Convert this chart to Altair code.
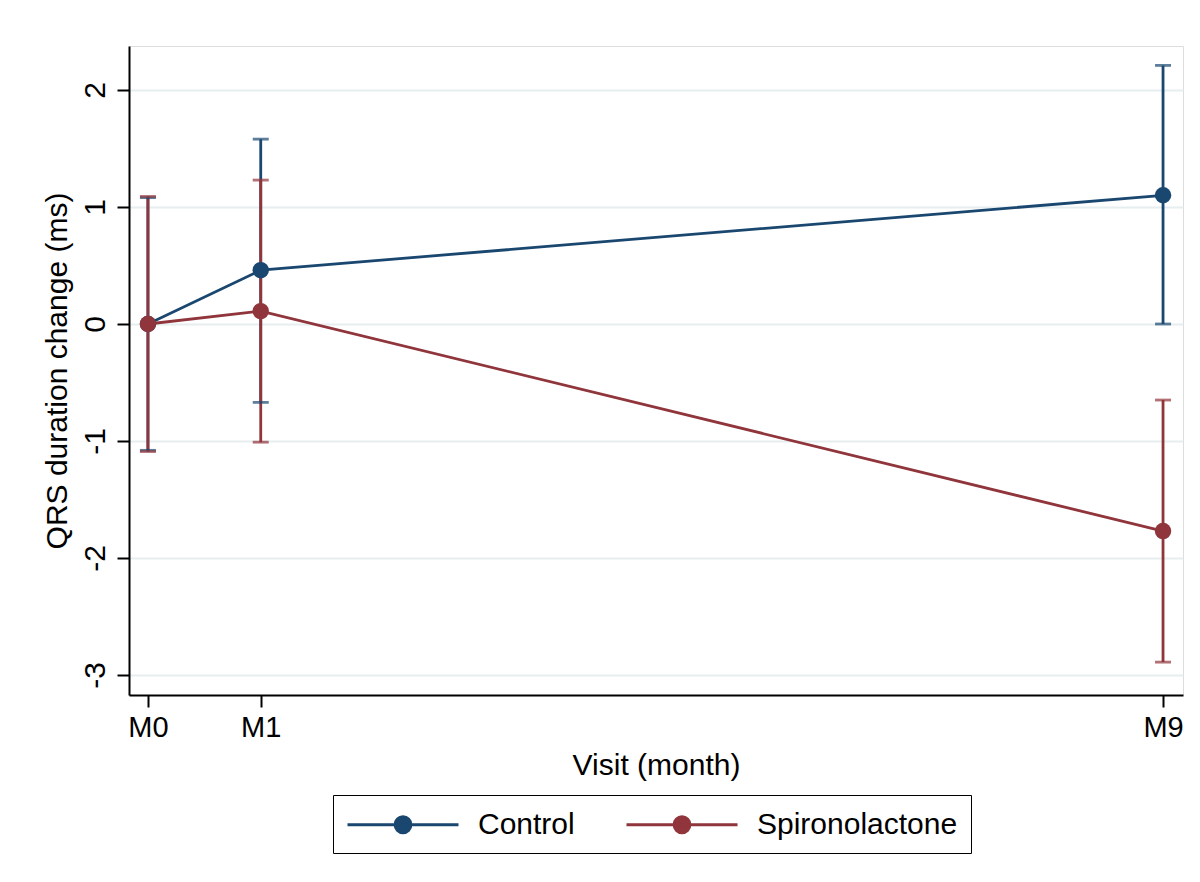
import altair as alt
import pandas as pd

visits = ["M0", "M1", "M9"]
months = [0, 1, 9]
groups = ["Control", "Spironolactone"]
control_mean = [0.0, 0.46, 1.10]
control_lo = [-1.08, -0.67, 0.0]
control_hi = [1.08, 1.58, 2.21]
spiro_mean = [0.0, 0.11, -1.77]
spiro_lo = [-1.09, -1.01, -2.89]
spiro_hi = [1.09, 1.23, -0.65]
y_ticks = [-3, -2, -1, 0, 1, 2]

rows = []
for g, mean, lo, hi in [("Control", control_mean, control_lo, control_hi),
                        ("Spironolactone", spiro_mean, spiro_lo, spiro_hi)]:
    for v, m, a, b, c in zip(visits, months, mean, lo, hi):
        rows.append({"group": g, "visit": v, "month": m, "mean": a, "lo": b, "hi": c})
df = pd.DataFrame(rows)

FONT = "Liberation Sans"
colors = ["#1a476f", "#90353b"]
LW = 2.8

xscale = alt.Scale(domain=[-0.168, 9.177], nice=False, zero=False)
yscale = alt.Scale(domain=[-3.171, 2.376], nice=False, zero=False)

x_enc = alt.X("month:Q", scale=xscale,
              axis=alt.Axis(values=months, labelExpr="'M' + datum.value", title="Visit (month)",
                            grid=False, tickSize=12, tickWidth=2, tickColor="black",
                            domainColor="black", domainWidth=2, labelFontSize=29,
                            labelFont=FONT, labelColor="black", labelPadding=6,
                            titleFont=FONT, titleFontSize=30, titleFontWeight="normal",
                            titleColor="black", titlePadding=8))
y_axis = alt.Axis(values=y_ticks, labelExpr="'' + datum.value",
                  title="QRS duration change (ms)", grid=True,
                  gridColor="#e6eef0", gridWidth=2, tickSize=12, tickWidth=2,
                  tickColor="black", domainColor="black", domainWidth=2,
                  labelAngle=-90, labelAlign="center", labelBaseline="bottom",
                  labelFontSize=30, labelFont=FONT, labelColor="black", labelPadding=7,
                  titleFont=FONT, titleFontSize=30, titleFontWeight="normal",
                  titleColor="black", titlePadding=8)

color_scale = alt.Scale(domain=groups, range=colors)

legend_path = "M-1,0L6.4,0M3.233,0A0.533,0.533,0,1,1,2.167,0A0.533,0.533,0,1,1,3.233,0Z"
legend = alt.Legend(title=None, orient="none", legendX=204, legendY=749,
                    direction="horizontal", strokeColor="black", padding=13,
                    labelFont=FONT, labelFontSize=30, labelColor="black", labelLimit=500,
                    symbolType=legend_path, symbolSize=900, symbolStrokeWidth=LW,
                    symbolOpacity=1, labelOffset=99, columnPadding=45)
color_enc = alt.Color("group:N", scale=color_scale, legend=legend)

base = alt.Chart(df)

rules = base.mark_rule(strokeWidth=LW).encode(
    x=x_enc,
    y=alt.Y("lo:Q", scale=yscale, axis=y_axis),
    y2="hi:Q",
    color=color_enc,
)
caps_lo = base.mark_tick(orient="horizontal", size=16, thickness=LW).encode(
    x="month:Q", y="lo:Q", color=color_enc)
caps_hi = base.mark_tick(orient="horizontal", size=16, thickness=LW).encode(
    x="month:Q", y="hi:Q", color=color_enc)
lines = base.mark_line(strokeWidth=LW).encode(
    x="month:Q", y="mean:Q", color=color_enc, order="month:Q")
points = base.mark_point(filled=True, size=270, opacity=1).encode(
    x="month:Q", y="mean:Q", color=color_enc)

chart = alt.layer(rules, caps_lo, caps_hi, lines, points).properties(
    width=1054, height=649,
    autosize=alt.AutoSizeParams(type="none"),
    padding={"left": 121, "top": 38, "right": 9, "bottom": 175},
).configure_view(stroke=None).configure(background="white")

chart.save("out.html", embed_options={"renderer": "svg", "actions": False})
